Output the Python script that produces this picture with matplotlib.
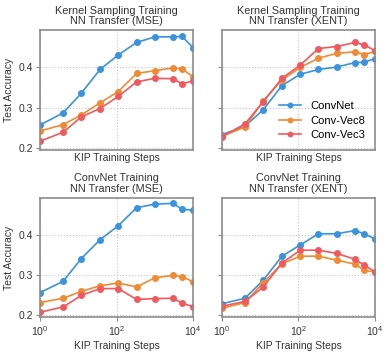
import matplotlib
matplotlib.use('Agg')
import matplotlib.pyplot as plt
from matplotlib.ticker import LogLocator, NullLocator, NullFormatter

plt.rcParams.update({'font.size': 7.5, 'font.family': ['Liberation Sans', 'DejaVu Sans']})

steps = [1, 4, 12, 37, 111, 333, 1000, 3000, 5200, 10000]
series_names = ['ConvNet', 'Conv-Vec8', 'Conv-Vec3']
colors = ['#3a93dd', '#f08a33', '#f05a5e']

titles = ['Kernel Sampling Training\nNN Transfer (MSE)',
          'Kernel Sampling Training\nNN Transfer (XENT)',
          'ConvNet Training\nNN Transfer (MSE)',
          'ConvNet Training\nNN Transfer (XENT)']

# kernel sampling, MSE
ks_mse_convnet = [0.257, 0.287, 0.336, 0.395, 0.431, 0.462, 0.476, 0.476, 0.477, 0.449]
ks_mse_vec8 = [0.242, 0.258, 0.282, 0.312, 0.340, 0.385, 0.392, 0.399, 0.396, 0.377]
ks_mse_vec3 = [0.217, 0.239, 0.277, 0.298, 0.328, 0.364, 0.373, 0.372, 0.359, 0.367]

# kernel sampling, XENT
ks_xent_convnet = [0.233, 0.254, 0.295, 0.355, 0.383, 0.395, 0.401, 0.412, 0.413, 0.422]
ks_xent_vec8 = [0.229, 0.252, 0.317, 0.369, 0.400, 0.423, 0.435, 0.439, 0.432, 0.440]
ks_xent_vec3 = [0.228, 0.260, 0.315, 0.373, 0.406, 0.447, 0.452, 0.462, 0.456, 0.442]

# convnet training, MSE
cn_mse_convnet = [0.256, 0.284, 0.341, 0.388, 0.423, 0.468, 0.477, 0.479, 0.464, 0.462]
cn_mse_vec8 = [0.231, 0.242, 0.259, 0.273, 0.280, 0.270, 0.293, 0.299, 0.296, 0.283]
cn_mse_vec3 = [0.207, 0.220, 0.249, 0.266, 0.266, 0.239, 0.241, 0.242, 0.229, 0.221]

# convnet training, XENT
cn_xent_convnet = [0.228, 0.242, 0.287, 0.347, 0.375, 0.403, 0.403, 0.411, 0.403, 0.390]
cn_xent_vec8 = [0.217, 0.231, 0.281, 0.328, 0.347, 0.347, 0.337, 0.327, 0.312, 0.307]
cn_xent_vec3 = [0.222, 0.234, 0.270, 0.330, 0.362, 0.362, 0.354, 0.339, 0.325, 0.308]

panels = [
    [ks_mse_convnet, ks_mse_vec8, ks_mse_vec3],
    [ks_xent_convnet, ks_xent_vec8, ks_xent_vec3],
    [cn_mse_convnet, cn_mse_vec8, cn_mse_vec3],
    [cn_xent_convnet, cn_xent_vec8, cn_xent_vec3],
]

fig = plt.figure(figsize=(3.9, 3.55), dpi=100)
boxes = [
    [0.1026, 0.5775, 0.3924, 0.338],
    [0.5692, 0.5775, 0.3923, 0.338],
    [0.1026, 0.107, 0.3924, 0.336],
    [0.5692, 0.107, 0.3923, 0.336],
]

for i, (box, title, data) in enumerate(zip(boxes, titles, panels)):
    ax = fig.add_axes(box)
    for vals, name, c in zip(data, series_names, colors):
        ax.plot(steps, vals, color=c, lw=1.2, marker='o', ms=4, label=name)
    ax.set_xscale('log')
    ax.set_xlim(1, 1e4)
    ax.set_ylim(0.195, 0.493)
    ax.set_yticks([0.2, 0.3, 0.4])
    ax.xaxis.set_major_locator(LogLocator(base=100))
    ax.xaxis.set_minor_locator(NullLocator())
    ax.xaxis.set_minor_formatter(NullFormatter())
    ax.grid(True, color='#c4c4c4', linestyle=':', linewidth=0.8)
    for sp in ax.spines.values():
        sp.set_color('#8c8c8c')
        sp.set_linewidth(1.2)
    ax.tick_params(colors='#8c8c8c', labelcolor='#333333', length=3, width=0.8, pad=2)
    ax.set_title(title, fontsize=7.8, color='#333333', pad=4, linespacing=1.1)
    ax.set_xlabel('KIP Training Steps', color='#333333', labelpad=2)
    if i < 2:
        ax.tick_params(axis='x', labelbottom=False, length=0)
    if i % 2 == 0:
        ax.set_ylabel('Test Accuracy', color='#333333', labelpad=3)
    else:
        ax.tick_params(axis='y', labelleft=False)
    if i == 1:
        ax.legend(loc='lower right', bbox_to_anchor=(1.0, 0.0), frameon=False,
                  handlelength=2.0, labelspacing=0.4, fontsize=8, markerscale=0.8)

fig.savefig('out.png', dpi=100)
